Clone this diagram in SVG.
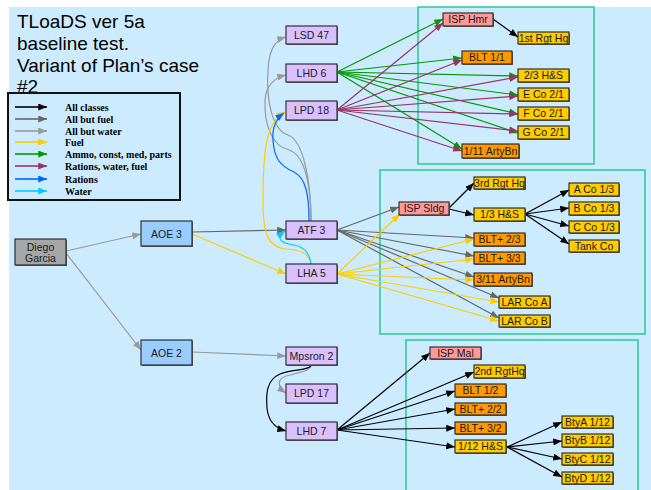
<svg xmlns="http://www.w3.org/2000/svg" width="651" height="490" viewBox="0 0 651 490">
<style>
  .bg { fill: #CCEBFF; }
  .frame { fill: none; stroke: #33CC99; stroke-width: 1.6; }
  .title { font-family: "Liberation Sans", Arial, sans-serif; font-size: 19px; fill: #000; }
  .leg { font-family: "Liberation Serif", "Times New Roman", serif; font-size: 10px; font-weight: bold; fill: #000; }
  .shadow { fill: #6E6E6E; }
  .box { stroke: #222; stroke-width: 1.1; }
  .p { fill: #DBC0FF; }
  .b { fill: #99CCFF; }
  .g { fill: #A6A6A6; }
  .pk { fill: #FF9999; }
  .y { fill: #FFCC00; }
  .o { fill: #FF9900; }
  .lbl { font-family: "Liberation Sans", Arial, sans-serif; font-size: 10.5px; fill: #1A1A1A; text-anchor: middle; }
  .e { fill: none; stroke-width: 1.2; }
  .k { stroke: #000; marker-end: url(#mk); }
  .dg { stroke: #666; marker-end: url(#mdg); }
  .lg { stroke: #999; marker-end: url(#mlg); }
  .f { stroke: #FFCC00; marker-end: url(#mf); }
  .gr { stroke: #009900; marker-end: url(#mgr); }
  .pu { stroke: #993366; marker-end: url(#mpu); }
  .bl { stroke: #0066FF; marker-end: url(#mbl); }
  .cy { stroke: #00CCFF; marker-end: url(#mcy); }
  .legline { stroke-width: 1.6; }
</style>
<defs>
  <marker id="mk" viewBox="0 0 10 8" refX="10" refY="4" markerWidth="9" markerHeight="7" markerUnits="userSpaceOnUse" orient="auto"><path d="M0,0 L10,4 L0,8 z" fill="#000"/></marker>
  <marker id="mdg" viewBox="0 0 10 8" refX="10" refY="4" markerWidth="9" markerHeight="7" markerUnits="userSpaceOnUse" orient="auto"><path d="M0,0 L10,4 L0,8 z" fill="#666"/></marker>
  <marker id="mlg" viewBox="0 0 10 8" refX="10" refY="4" markerWidth="9" markerHeight="7" markerUnits="userSpaceOnUse" orient="auto"><path d="M0,0 L10,4 L0,8 z" fill="#999"/></marker>
  <marker id="mf" viewBox="0 0 10 8" refX="10" refY="4" markerWidth="9" markerHeight="7" markerUnits="userSpaceOnUse" orient="auto"><path d="M0,0 L10,4 L0,8 z" fill="#FFCC00"/></marker>
  <marker id="mgr" viewBox="0 0 10 8" refX="10" refY="4" markerWidth="9" markerHeight="7" markerUnits="userSpaceOnUse" orient="auto"><path d="M0,0 L10,4 L0,8 z" fill="#009900"/></marker>
  <marker id="mpu" viewBox="0 0 10 8" refX="10" refY="4" markerWidth="9" markerHeight="7" markerUnits="userSpaceOnUse" orient="auto"><path d="M0,0 L10,4 L0,8 z" fill="#993366"/></marker>
  <marker id="mbl" viewBox="0 0 10 8" refX="10" refY="4" markerWidth="9" markerHeight="7" markerUnits="userSpaceOnUse" orient="auto"><path d="M0,0 L10,4 L0,8 z" fill="#0066FF"/></marker>
  <marker id="mcy" viewBox="0 0 10 8" refX="10" refY="4" markerWidth="9" markerHeight="7" markerUnits="userSpaceOnUse" orient="auto"><path d="M0,0 L10,4 L0,8 z" fill="#00CCFF"/></marker>
</defs>

<!-- slide background -->
<rect x="0" y="0" width="651" height="490" fill="#fff"/>
<rect class="bg" x="9" y="7" width="642" height="483"/>

<!-- unit frames -->
<rect class="frame" x="418" y="7" width="176" height="157"/>
<rect class="frame" x="380" y="170" width="265" height="164"/>
<rect class="frame" x="406" y="340" width="232" height="160"/>

<!-- title -->
<g id="title">
  <text class="title" x="17" y="28">TLoaDS ver 5a</text>
  <text class="title" x="17" y="50">baseline test.</text>
  <text class="title" x="17" y="72">Variant of Plan’s case</text>
  <text class="title" x="17" y="93">#2</text>
</g>

<!-- legend -->
<g id="legend">
  <rect x="8" y="93" width="172" height="107" fill="none" stroke="#111" stroke-width="2"/>
  <line class="e legline k" x1="15" y1="107" x2="47" y2="107"/>
  <line class="e legline dg" x1="15" y1="119" x2="47" y2="119"/>
  <line class="e legline lg" x1="15" y1="131" x2="47" y2="131"/>
  <line class="e legline f" x1="15" y1="142" x2="47" y2="142"/>
  <line class="e legline gr" x1="15" y1="154" x2="47" y2="154"/>
  <line class="e legline pu" x1="15" y1="166" x2="47" y2="166"/>
  <line class="e legline bl" x1="15" y1="179" x2="47" y2="179"/>
  <line class="e legline cy" x1="15" y1="191" x2="47" y2="191"/>
  <text class="leg" x="65" y="110.5">All classes</text>
  <text class="leg" x="65" y="122.5">All but fuel</text>
  <text class="leg" x="65" y="134.5">All but water</text>
  <text class="leg" x="65" y="145.5">Fuel</text>
  <text class="leg" x="65" y="157.5">Ammo, const, med, parts</text>
  <text class="leg" x="65" y="169.5">Rations, water, fuel</text>
  <text class="leg" x="65" y="182.5">Rations</text>
  <text class="leg" x="65" y="194.5">Water</text>
</g>

<!-- connectors -->
<g id="connectors">
  <!-- all but water -->
  <line class="e lg" x1="66" y1="251" x2="141" y2="234"/>
  <line class="e lg" x1="66" y1="253" x2="141" y2="350"/>
  <line class="e lg" x1="192" y1="352" x2="286" y2="356"/>
  <path class="e lg" d="M311,221 C311,180 303,140 288,135 C272,130 266,100 268,70 C269,48 276,40 286,37"/>
  <path class="e lg" d="M311,221 C311,190 306,155 289,150 C272,146 264,125 265,100 C266,86 274,78 286,75"/>
  <path class="e lg" d="M311,366 C308,372 296,373 286,376 C278,379 276,386 286,393"/>

  <!-- all but fuel -->
  <line class="e dg" x1="192" y1="232" x2="286" y2="230"/>
  <line class="e dg" x1="337" y1="230" x2="399" y2="207"/>
  <line class="e dg" x1="337" y1="230" x2="474" y2="238"/>
  <line class="e dg" x1="337" y1="230" x2="474" y2="256"/>
  <line class="e dg" x1="337" y1="230" x2="474" y2="277"/>
  <line class="e dg" x1="337" y1="230" x2="499" y2="298"/>
  <line class="e dg" x1="337" y1="230" x2="499" y2="318"/>

  <!-- fuel -->
  <line class="e f" x1="192" y1="234" x2="286" y2="274"/>
  <line class="e f" x1="337" y1="274" x2="400" y2="214"/>
  <line class="e f" x1="337" y1="274" x2="474" y2="239"/>
  <line class="e f" x1="337" y1="274" x2="474" y2="259"/>
  <line class="e f" x1="337" y1="274" x2="474" y2="280"/>
  <line class="e f" x1="337" y1="274" x2="499" y2="302"/>
  <line class="e f" x1="337" y1="274" x2="499" y2="321"/>
  <path class="e f" d="M311,264 C309,253 300,250 286,249 C266,247 263,230 263,200 C263,150 266,122 285,112"/>

  <!-- rations -->
  <path class="e bl" d="M309,221 C309,195 306,178 294,172 C280,166 274,158 273,140 C272,128 276,119 284,113"/>

  <!-- water -->
  <path class="e cy" d="M311,264 C309,249 301,246 289,244 C279,242 277,237 285,231"/>

  <!-- ammo, const, med, parts -->
  <line class="e gr" x1="337" y1="72" x2="443" y2="19"/>
  <line class="e gr" x1="337" y1="72" x2="462" y2="58"/>
  <line class="e gr" x1="337" y1="72" x2="518" y2="76"/>
  <line class="e gr" x1="337" y1="72" x2="518" y2="95"/>
  <line class="e gr" x1="337" y1="72" x2="518" y2="114"/>
  <line class="e gr" x1="337" y1="72" x2="518" y2="133"/>
  <line class="e gr" x1="337" y1="72" x2="462" y2="149"/>

  <!-- rations, water, fuel -->
  <line class="e pu" x1="337" y1="110" x2="443" y2="23"/>
  <line class="e pu" x1="337" y1="110" x2="462" y2="60"/>
  <line class="e pu" x1="337" y1="110" x2="518" y2="77"/>
  <line class="e pu" x1="337" y1="110" x2="518" y2="96"/>
  <line class="e pu" x1="337" y1="110" x2="518" y2="114"/>
  <line class="e pu" x1="337" y1="110" x2="518" y2="131"/>
  <line class="e pu" x1="337" y1="110" x2="462" y2="151"/>

  <!-- all classes -->
  <line class="e k" x1="493" y1="19" x2="518" y2="37"/>
  <line class="e k" x1="449" y1="208" x2="474" y2="183"/>
  <line class="e k" x1="449" y1="209" x2="474" y2="215"/>
  <line class="e k" x1="525" y1="214" x2="569" y2="190"/>
  <line class="e k" x1="525" y1="214" x2="569" y2="208"/>
  <line class="e k" x1="525" y1="214" x2="569" y2="226"/>
  <line class="e k" x1="525" y1="214" x2="569" y2="244"/>
  <path class="e k" d="M311,366 C306,371 292,369 280,374 C266,380 266,395 267,408 C268,420 275,428 286,431"/>
  <line class="e k" x1="337" y1="430" x2="430" y2="353"/>
  <line class="e k" x1="337" y1="430" x2="474" y2="372"/>
  <line class="e k" x1="337" y1="430" x2="455" y2="391"/>
  <line class="e k" x1="337" y1="430" x2="455" y2="409"/>
  <line class="e k" x1="337" y1="430" x2="455" y2="428"/>
  <line class="e k" x1="337" y1="430" x2="455" y2="447"/>
  <line class="e k" x1="507" y1="447" x2="562" y2="422"/>
  <line class="e k" x1="507" y1="447" x2="562" y2="441"/>
  <line class="e k" x1="507" y1="447" x2="562" y2="459"/>
  <line class="e k" x1="507" y1="447" x2="562" y2="477"/>
</g>

<!-- nodes: ships and sources -->
<g id="n-diego"><rect class="shadow" x="16" y="240" width="51" height="26"/><rect class="box g" x="15" y="239" width="51" height="26"/><text class="lbl" x="40.5" y="250.5">Diego</text><text class="lbl" x="40.5" y="261.5">Garcia</text></g>
<g id="n-aoe3"><rect class="shadow" x="142" y="222" width="51" height="25"/><rect class="box b" x="141" y="221" width="51" height="25"/><text class="lbl" x="166.5" y="237.5">AOE 3</text></g>
<g id="n-aoe2"><rect class="shadow" x="142" y="341" width="51" height="25"/><rect class="box b" x="141" y="340" width="51" height="25"/><text class="lbl" x="166.5" y="356.5">AOE 2</text></g>
<g id="n-lsd47"><rect class="shadow" x="287" y="27" width="51" height="18"/><rect class="box p" x="286" y="26" width="51" height="18"/><text class="lbl" x="311.5" y="38.7">LSD 47</text></g>
<g id="n-lhd6"><rect class="shadow" x="287" y="65" width="51" height="18"/><rect class="box p" x="286" y="64" width="51" height="18"/><text class="lbl" x="311.5" y="76.7">LHD 6</text></g>
<g id="n-lpd18"><rect class="shadow" x="287" y="102" width="51" height="19"/><rect class="box p" x="286" y="101" width="51" height="19"/><text class="lbl" x="311.5" y="114.2">LPD 18</text></g>
<g id="n-atf3"><rect class="shadow" x="287" y="222" width="51" height="18"/><rect class="box p" x="286" y="221" width="51" height="18"/><text class="lbl" x="311.5" y="233.7">ATF 3</text></g>
<g id="n-lha5"><rect class="shadow" x="287" y="265" width="51" height="19"/><rect class="box p" x="286" y="264" width="51" height="19"/><text class="lbl" x="311.5" y="277.2">LHA 5</text></g>
<g id="n-mpsron2"><rect class="shadow" x="287" y="348" width="51" height="18"/><rect class="box p" x="286" y="347" width="51" height="18"/><text class="lbl" x="311.5" y="359.7">Mpsron 2</text></g>
<g id="n-lpd17"><rect class="shadow" x="287" y="385" width="51" height="19"/><rect class="box p" x="286" y="384" width="51" height="19"/><text class="lbl" x="311.5" y="397.2">LPD 17</text></g>
<g id="n-lhd7"><rect class="shadow" x="287" y="423" width="51" height="18"/><rect class="box p" x="286" y="422" width="51" height="18"/><text class="lbl" x="311.5" y="434.7">LHD 7</text></g>

<!-- nodes: units ashore (north) -->
<g id="n-isphmr"><rect class="shadow" x="444" y="14" width="50" height="13"/><rect class="box pk" x="443" y="13" width="50" height="13"/><text class="lbl" x="468" y="23.3">ISP Hmr</text></g>
<g id="n-1strgthq"><rect class="shadow" x="519" y="33" width="51" height="12"/><rect class="box y" x="518" y="32" width="51" height="12"/><text class="lbl" x="543.5" y="41.8">1st Rgt Hq</text></g>
<g id="n-blt11"><rect class="shadow" x="463" y="52" width="50" height="13"/><rect class="box o" x="462" y="51" width="50" height="13"/><text class="lbl" x="487" y="61.3">BLT 1/1</text></g>
<g id="n-23hs"><rect class="shadow" x="519" y="70" width="51" height="13"/><rect class="box y" x="518" y="69" width="51" height="13"/><text class="lbl" x="543.5" y="79.3">2/3 H&amp;S</text></g>
<g id="n-eco21"><rect class="shadow" x="519" y="89" width="51" height="13"/><rect class="box y" x="518" y="88" width="51" height="13"/><text class="lbl" x="543.5" y="98.3">E Co 2/1</text></g>
<g id="n-fco21"><rect class="shadow" x="519" y="108" width="51" height="13"/><rect class="box y" x="518" y="107" width="51" height="13"/><text class="lbl" x="543.5" y="117.3">F Co 2/1</text></g>
<g id="n-gco21"><rect class="shadow" x="519" y="127" width="51" height="13"/><rect class="box y" x="518" y="126" width="51" height="13"/><text class="lbl" x="543.5" y="136.3">G Co 2/1</text></g>
<g id="n-111arty"><rect class="shadow" x="463" y="145" width="57" height="14"/><rect class="box o" x="462" y="144" width="57" height="14"/><text class="lbl" x="490.5" y="154.8">1/11 ArtyBn</text></g>

<!-- nodes: units ashore (centre) -->
<g id="n-ispsldg"><rect class="shadow" x="400" y="203" width="50" height="13"/><rect class="box pk" x="399" y="202" width="50" height="13"/><text class="lbl" x="424" y="212.3">ISP Sldg</text></g>
<g id="n-3rdrgthq"><rect class="shadow" x="475" y="178" width="51" height="12"/><rect class="box y" x="474" y="177" width="51" height="12"/><text class="lbl" x="499.5" y="186.8">3rd Rgt Hq</text></g>
<g id="n-13hs"><rect class="shadow" x="475" y="209" width="51" height="13"/><rect class="box y" x="474" y="208" width="51" height="13"/><text class="lbl" x="499.5" y="218.3">1/3 H&amp;S</text></g>
<g id="n-aco13"><rect class="shadow" x="570" y="184" width="50" height="13"/><rect class="box y" x="569" y="183" width="50" height="13"/><text class="lbl" x="594" y="193.3">A Co 1/3</text></g>
<g id="n-bco13"><rect class="shadow" x="570" y="203" width="50" height="13"/><rect class="box y" x="569" y="202" width="50" height="13"/><text class="lbl" x="594" y="212.3">B Co 1/3</text></g>
<g id="n-cco13"><rect class="shadow" x="570" y="222" width="50" height="12"/><rect class="box y" x="569" y="221" width="50" height="12"/><text class="lbl" x="594" y="230.8">C Co 1/3</text></g>
<g id="n-tankco"><rect class="shadow" x="570" y="241" width="50" height="12"/><rect class="box y" x="569" y="240" width="50" height="12"/><text class="lbl" x="594" y="249.8">Tank Co</text></g>
<g id="n-blt23"><rect class="shadow" x="475" y="234" width="51" height="13"/><rect class="box o" x="474" y="233" width="51" height="13"/><text class="lbl" x="499.5" y="243.3">BLT+ 2/3</text></g>
<g id="n-blt33"><rect class="shadow" x="475" y="253" width="51" height="12"/><rect class="box o" x="474" y="252" width="51" height="12"/><text class="lbl" x="499.5" y="261.8">BLT+ 3/3</text></g>
<g id="n-311arty"><rect class="shadow" x="475" y="274" width="58" height="13"/><rect class="box o" x="474" y="273" width="58" height="13"/><text class="lbl" x="503" y="283.3">3/11 ArtyBn</text></g>
<g id="n-larcoa"><rect class="shadow" x="500" y="297" width="51" height="12"/><rect class="box y" x="499" y="296" width="51" height="12"/><text class="lbl" x="524.5" y="305.8">LAR Co A</text></g>
<g id="n-larcob"><rect class="shadow" x="500" y="316" width="51" height="12"/><rect class="box y" x="499" y="315" width="51" height="12"/><text class="lbl" x="524.5" y="324.8">LAR Co B</text></g>

<!-- nodes: units ashore (south) -->
<g id="n-ispmal"><rect class="shadow" x="431" y="348" width="51" height="12"/><rect class="box pk" x="430" y="347" width="51" height="12"/><text class="lbl" x="455.5" y="356.8">ISP Mal</text></g>
<g id="n-2ndrgthq"><rect class="shadow" x="475" y="366" width="51" height="13"/><rect class="box y" x="474" y="365" width="51" height="13"/><text class="lbl" x="499.5" y="375.3">2nd RgtHq</text></g>
<g id="n-blt12"><rect class="shadow" x="456" y="385" width="51" height="13"/><rect class="box o" x="455" y="384" width="51" height="13"/><text class="lbl" x="480.5" y="394.3">BLT 1/2</text></g>
<g id="n-blt22"><rect class="shadow" x="456" y="404" width="51" height="12"/><rect class="box o" x="455" y="403" width="51" height="12"/><text class="lbl" x="480.5" y="412.8">BLT+ 2/2</text></g>
<g id="n-blt32"><rect class="shadow" x="456" y="423" width="51" height="12"/><rect class="box o" x="455" y="422" width="51" height="12"/><text class="lbl" x="480.5" y="431.8">BLT+ 3/2</text></g>
<g id="n-112hs"><rect class="shadow" x="456" y="441" width="51" height="13"/><rect class="box y" x="455" y="440" width="51" height="13"/><text class="lbl" x="480.5" y="450.3">1/12 H&amp;S</text></g>
<g id="n-btya"><rect class="shadow" x="563" y="417" width="51" height="12"/><rect class="box y" x="562" y="416" width="51" height="12"/><text class="lbl" x="587.5" y="425.8">BtyA 1/12</text></g>
<g id="n-btyb"><rect class="shadow" x="563" y="435" width="51" height="13"/><rect class="box y" x="562" y="434" width="51" height="13"/><text class="lbl" x="587.5" y="444.3">BtyB 1/12</text></g>
<g id="n-btyc"><rect class="shadow" x="563" y="454" width="51" height="12"/><rect class="box y" x="562" y="453" width="51" height="12"/><text class="lbl" x="587.5" y="462.8">BtyC 1/12</text></g>
<g id="n-btyd"><rect class="shadow" x="563" y="473" width="51" height="12"/><rect class="box y" x="562" y="472" width="51" height="12"/><text class="lbl" x="587.5" y="481.8">BtyD 1/12</text></g>
</svg>
